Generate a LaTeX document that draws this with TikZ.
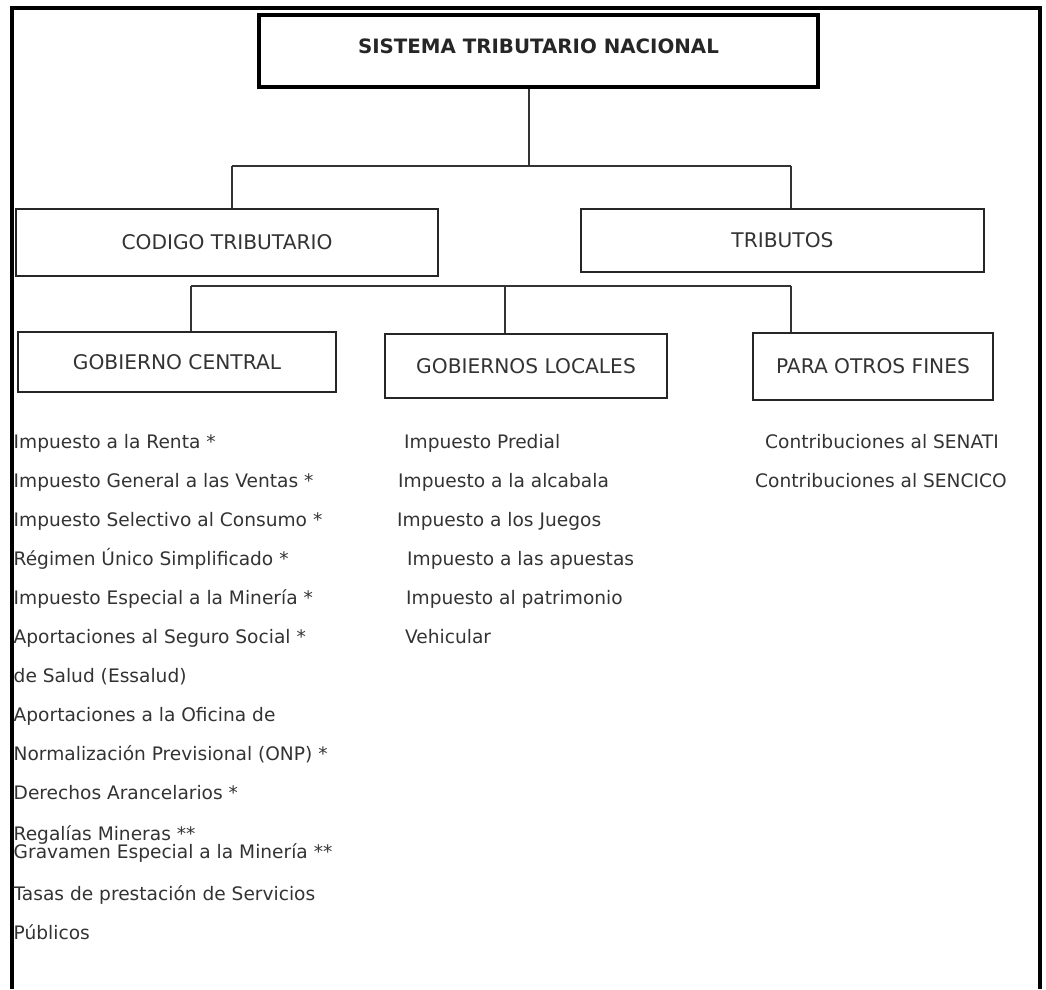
\documentclass[tikz,border=0pt]{standalone}
\usepackage{fontspec}
\setmainfont{DejaVu Sans}
\begin{document}
\begin{tikzpicture}[x=1pt,y=-1pt,
  frame/.style={line width=4pt, draw=black},
  titlebox/.style={draw=black, line width=3.2pt, inner sep=0pt, font=\fontsize{19.8}{24}\bfseries\selectfont, text=black!85},
  box/.style={draw=black!85, line width=1.8pt, inner sep=0pt, font=\fontsize{20.2}{24}\selectfont, text=black!80},
  conn/.style={draw=black!80, line width=1.4pt},
  item/.style={anchor=base west, inner sep=0pt, font=\fontsize{18.6}{22}\selectfont, text=black!80}]

\useasboundingbox (0,0) rectangle (1046,989);
\draw[frame] (11.5,989) -- (11.5,7.5) -- (1040,7.5) -- (1040,989);

\node[titlebox, minimum width=559pt, minimum height=72pt, text depth=10pt] (stn) at (538.5,51) {SISTEMA TRIBUTARIO NACIONAL};
\node[box, minimum width=422pt, minimum height=67pt] (cod) at (227,242.5) {CODIGO TRIBUTARIO};
\node[box, minimum width=403pt, minimum height=63pt] (trib) at (782.5,240.5) {TRIBUTOS};
\node[box, minimum width=318pt, minimum height=60pt] (gc) at (177,362) {GOBIERNO CENTRAL};
\node[box, minimum width=282pt, minimum height=64pt] (gl) at (526,366) {GOBIERNOS LOCALES};
\node[box, minimum width=240pt, minimum height=67pt] (pof) at (873,366.5) {PARA OTROS FINES};

\coordinate (j0) at (529,166);
\coordinate (jl) at (232,166);
\coordinate (jr) at (791,166);
\coordinate (kl) at (191,286);
\coordinate (km) at (505,286);
\coordinate (kr) at (791,286);

\draw[conn] (stn.south -| j0) -- (j0);
\draw[conn] (jl) -- (jr);
\draw[conn] (jl) -- (jl |- cod.north);
\draw[conn] (jr) -- (jr |- trib.north);
\draw[conn] (kl) -- (kr);
\draw[conn] (kl) -- (kl |- gc.north);
\draw[conn] (km) -- (km |- gl.north);
\draw[conn] (kr) -- (kr |- pof.north);

% Gobierno central
\node[item] (c1) at (13.5,448) {Impuesto a la Renta *};
\node[item] (c2) at (13.5,487) {Impuesto General a las Ventas *};
\node[item] (c3) at (13.5,526) {Impuesto Selectivo al Consumo *};
\node[item] (c4) at (13.5,565) {Régimen Único Simplificado *};
\node[item] (c5) at (13.5,604) {Impuesto Especial a la Minería *};
\node[item] (c6) at (13.5,643) {Aportaciones al Seguro Social *};
\node[item] (c7) at (13.5,682) {de Salud (Essalud)};
\node[item] (c8) at (13.5,721) {Aportaciones a la Oficina de};
\node[item] (c9) at (13.5,760) {Normalización Previsional (ONP) *};
\node[item] (c10) at (13.5,799) {Derechos Arancelarios *};
\node[item] (c11) at (13.5,840) {Regalías Mineras **};
\node[item] (c12) at (13.5,858) {Gravamen Especial a la Minería **};
\node[item] (c13) at (13.5,900) {Tasas de prestación de Servicios};
\node[item] (c14) at (13.5,939) {Públicos};

% Gobiernos locales
\node[item] (l1) at (404,448) {Impuesto Predial};
\node[item] (l2) at (398,487) {Impuesto a la alcabala};
\node[item] (l3) at (397,526) {Impuesto a los Juegos};
\node[item] (l4) at (407,565) {Impuesto a las apuestas};
\node[item] (l5) at (406,604) {Impuesto al patrimonio};
\node[item] (l6) at (405,643) {Vehicular};

% Para otros fines
\node[item] (o1) at (765,448) {Contribuciones al SENATI};
\node[item] (o2) at (755,487) {Contribuciones al SENCICO};
\end{tikzpicture}
\end{document}
